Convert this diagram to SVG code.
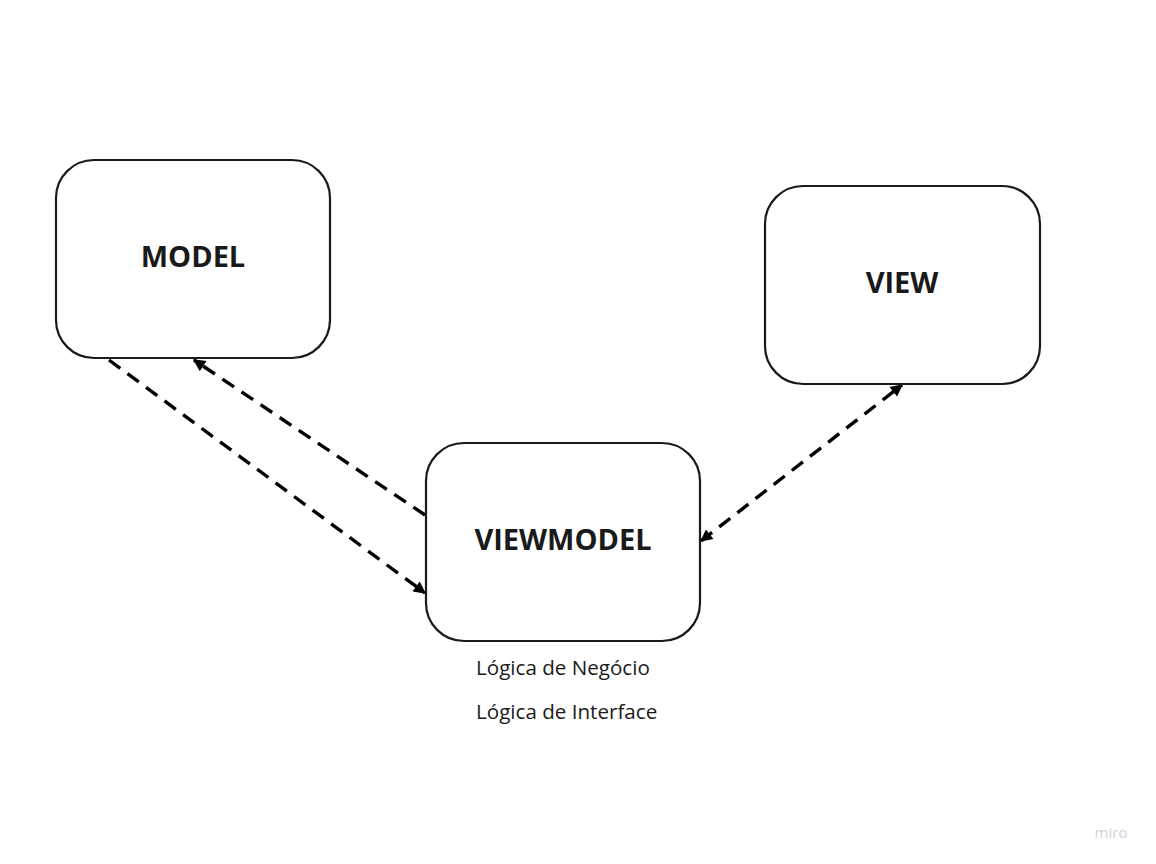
<svg xmlns="http://www.w3.org/2000/svg" width="1156" height="864" viewBox="0 0 1156 864">
<style>
.node{fill:#ffffff;stroke:#1a1a1a;stroke-width:2.2}
.title{font-family:"Open Sans","Liberation Sans",sans-serif;font-weight:bold;font-size:29px;fill:#1a1a1a;text-anchor:middle}
.label{font-family:"Open Sans","Liberation Sans",sans-serif;font-size:20.6px;fill:#1a1a1a}
.conn{fill:none;stroke:#000000;stroke-width:3.4;stroke-dasharray:14 9}
</style>
<defs>
<marker id="arr" viewBox="0 0 10 10" refX="9" refY="5" markerWidth="4" markerHeight="3.6" markerUnits="strokeWidth" orient="auto-start-reverse">
<path d="M0,0 L10,5 L0,10 z" fill="#000000"/>
</marker>
</defs>
<rect width="1156" height="864" fill="#ffffff"/>
<g id="connectors">
<line class="conn" x1="109" y1="360" x2="425" y2="593" marker-end="url(#arr)"/>
<line class="conn" x1="425" y1="515" x2="194" y2="360" marker-end="url(#arr)"/>
<line class="conn" x1="701" y1="541" x2="902" y2="385" marker-start="url(#arr)" marker-end="url(#arr)"/>
</g>
<g id="model">
<rect class="node" x="56" y="160" width="274" height="198" rx="38"/>
<text class="title" x="193" y="267">MODEL</text>
</g>
<g id="view">
<rect class="node" x="765" y="186" width="275" height="198" rx="38"/>
<text class="title" x="902" y="293">VIEW</text>
</g>
<g id="viewmodel">
<rect class="node" x="426" y="443" width="274" height="198" rx="38"/>
<text class="title" x="563" y="550">VIEWMODEL</text>
</g>
<g id="labels">
<text class="label" x="476" y="675">Lógica de Negócio</text>
<text class="label" x="476" y="719">Lógica de Interface</text>
</g>
<text x="1111" y="838" font-family="Open Sans, Liberation Sans, sans-serif" font-size="15" fill="#d0d0dc" text-anchor="middle">miro</text>
</svg>
